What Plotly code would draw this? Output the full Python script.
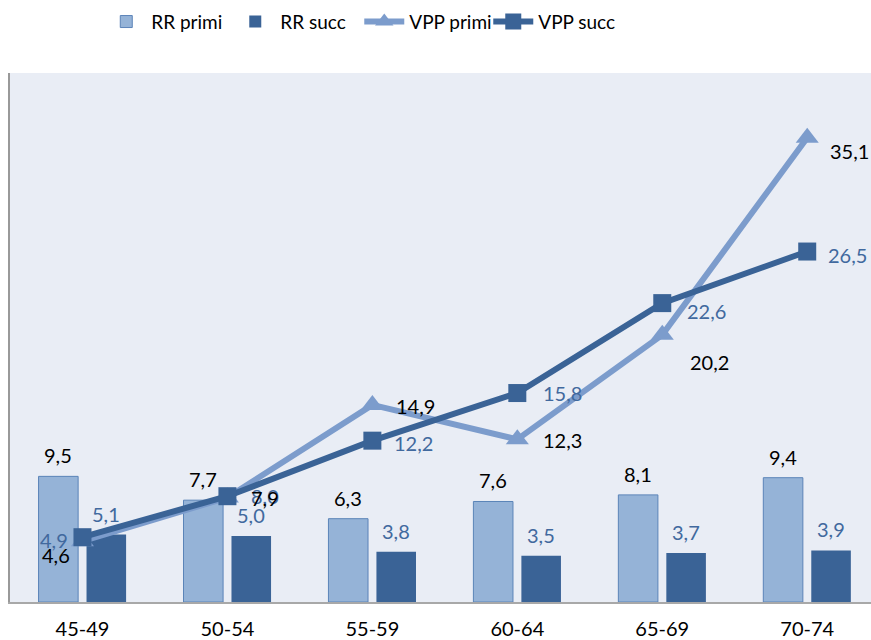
import plotly.graph_objects as go

categories = ["45-49", "50-54", "55-59", "60-64", "65-69", "70-74"]
rr_primi = [9.5, 7.7, 6.3, 7.6, 8.1, 9.4]
rr_succ = [5.1, 5.0, 3.8, 3.5, 3.7, 3.9]
vpp_primi = [4.6, 7.9, 14.9, 12.3, 20.2, 35.1]
vpp_succ = [4.9, 8.0, 12.2, 15.8, 22.6, 26.5]


def fmt(v):
    return f"{v:.1f}".replace(".", ",")


FONT = "Lato"
C_RR_PRIMI = "#95B3D7"
C_RR_PRIMI_EDGE = "#5B84B8"
C_RR_SUCC = "#3A6396"
C_VPP_PRIMI = "#7C9CCC"
C_VPP_SUCC = "#3A6396"
C_BLUE_TXT = "#41699E"
BAR_W = 0.273

fig = go.Figure()
fig.add_trace(go.Bar(x=categories, y=rr_primi, name="RR primi", width=BAR_W, offset=-0.303,
                     marker=dict(color=C_RR_PRIMI, line=dict(color=C_RR_PRIMI_EDGE, width=1))))
fig.add_trace(go.Bar(x=categories, y=rr_succ, name="RR succ", width=BAR_W, offset=0.028,
                     marker=dict(color=C_RR_SUCC, line=dict(color=C_RR_SUCC, width=0))))
fig.add_trace(go.Scatter(x=categories, y=vpp_primi, name="VPP primi", mode="lines+markers",
                         line=dict(color=C_VPP_PRIMI, width=6),
                         marker=dict(symbol="triangle-up", size=20, color=C_VPP_PRIMI)))
fig.add_trace(go.Scatter(x=categories, y=vpp_succ, name="VPP succ", mode="lines+markers",
                         line=dict(color=C_VPP_SUCC, width=6),
                         marker=dict(symbol="square", size=18, color=C_VPP_SUCC)))

ann = []
# bar labels
for cat, v in zip(categories, rr_primi):
    ann.append(dict(x=cat, y=v, text=fmt(v), xshift=-24, yshift=21, showarrow=False,
                    font=dict(color="black")))
for cat, v in zip(categories, rr_succ):
    ann.append(dict(x=cat, y=v, text=fmt(v), xshift=24, yshift=21, showarrow=False,
                    font=dict(color=C_BLUE_TXT)))

# line labels (style offsets)
primi_anchor = ["right", "left", "left", "left", "left", "left"]
primi_dx = [-10, 22, 22, 24, 26, 21]
primi_dy = [-14, 0, -1, -1, -27, -13]
succ_anchor = ["right", "left", "left", "left", "left", "left"]
succ_dx = [-12, 22, 20, 24, 23, 19]
succ_dy = [-3, 0, -2, 0, -8, -3]
for cat, v, a, dx, dy in zip(categories, vpp_succ, succ_anchor, succ_dx, succ_dy):
    ann.append(dict(x=cat, y=v, text=fmt(v), xanchor=a, xshift=dx, yshift=dy, showarrow=False,
                    font=dict(color=C_BLUE_TXT)))
for cat, v, a, dx, dy in zip(categories, vpp_primi, primi_anchor, primi_dx, primi_dy):
    ann.append(dict(x=cat, y=v, text=fmt(v), xanchor=a, xshift=dx, yshift=dy, showarrow=False,
                    font=dict(color="black")))

fig.update_layout(
    width=871, height=640,
    margin=dict(l=10, r=0, t=73, b=38),
    paper_bgcolor="white",
    plot_bgcolor="#E9EDF5",
    font=dict(family=FONT, size=20, color="black"),
    barmode="overlay",
    showlegend=True,
    legend=dict(orientation="h", x=0.106, xanchor="left", y=1.097, yanchor="middle",
                font=dict(size=19), bgcolor="rgba(0,0,0,0)",
                entrywidth=74, entrywidthmode="pixels", itemwidth=40),
    annotations=ann,
    xaxis=dict(range=[-0.5, 5.44], showline=True, linecolor="#A8A8A8", linewidth=2,
               showgrid=False, zeroline=False, ticks="", ticklabelstandoff=8,
               tickfont=dict(size=20, color="black"), fixedrange=True, automargin=False),
    yaxis=dict(range=[0, 40], showline=True, linecolor="#999999", linewidth=2,
               showgrid=False, zeroline=False, showticklabels=False, ticks="",
               automargin=False),
)

fig.write_html("out.html", config={"displayModeBar": False},
               post_script="document.body.style.margin='0px';")
